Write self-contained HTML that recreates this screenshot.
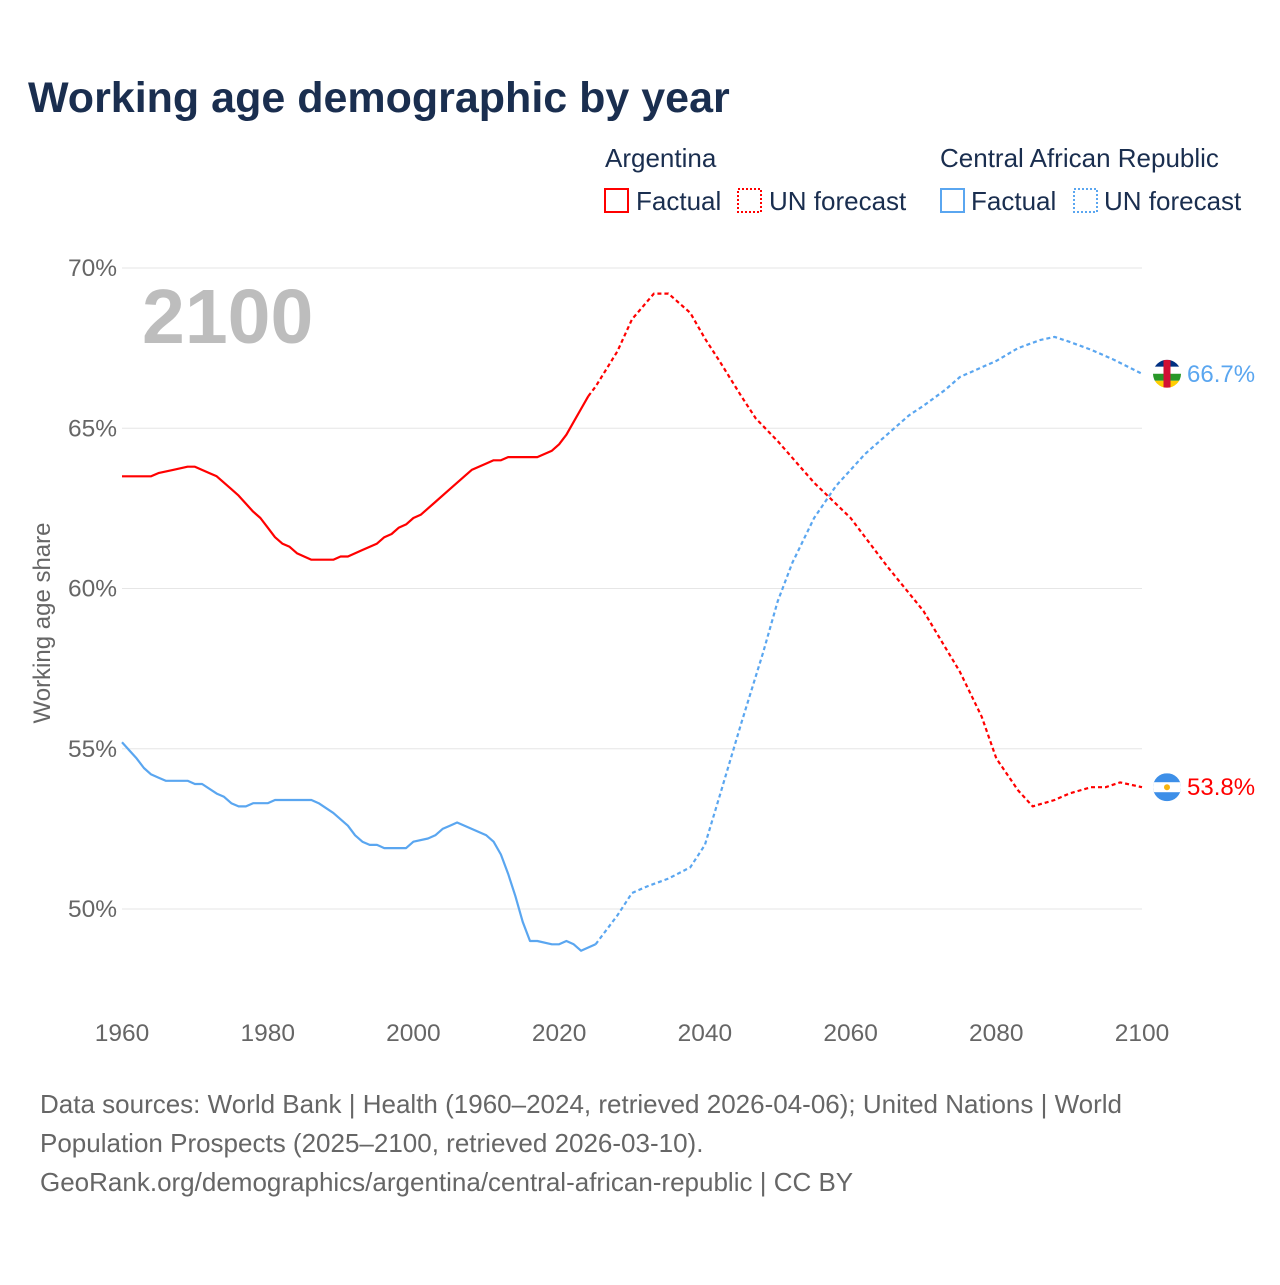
<!DOCTYPE html>
<html><head><meta charset="utf-8">
<style>
body{margin:0;background:#fff;}
svg text{font-family:"Liberation Sans",sans-serif;}
</style></head>
<body>
<svg width="1280" height="1280" viewBox="0 0 1280 1280">
<rect width="1280" height="1280" fill="#fff"/>
<text x="28" y="112" font-size="43" font-weight="bold" fill="#1a2e4f">Working age demographic by year</text>
<g font-size="26" fill="#1a2e4f">
<text x="605" y="167" fill="#1a2e4f">Argentina</text>
<text x="940" y="167" fill="#1a2e4f">Central African Republic</text>
<rect x="605" y="189" width="23" height="23" fill="none" stroke="#ff0000" stroke-width="2"/>
<text x="636" y="210" fill="#1a2e4f">Factual</text>
<rect x="738" y="189" width="23" height="23" fill="none" stroke="#ff0000" stroke-width="2" stroke-dasharray="2,2"/>
<text x="769" y="210" fill="#1a2e4f">UN forecast</text>
<rect x="941" y="189" width="23" height="23" fill="none" stroke="#5aa6f0" stroke-width="2"/>
<text x="971" y="210" fill="#1a2e4f">Factual</text>
<rect x="1074" y="189" width="23" height="23" fill="none" stroke="#5aa6f0" stroke-width="2" stroke-dasharray="2,2"/>
<text x="1104" y="210" fill="#1a2e4f">UN forecast</text>
</g>
<g id="grid"></g>
<text x="142" y="343" font-size="77" font-weight="bold" fill="#bdbdbd">2100</text>
<text transform="translate(50,623) rotate(-90)" text-anchor="middle" font-size="24" fill="#666">Working age share</text>
<g id="plot"></g>
<g font-size="26" fill="#666">
<text x="40" y="1113">Data sources: World Bank | Health (1960–2024, retrieved 2026-04-06); United Nations | World</text>
<text x="40" y="1152">Population Prospects (2025–2100, retrieved 2026-03-10).</text>
<text x="40" y="1191">GeoRank.org/demographics/argentina/central-african-republic | CC BY</text>
</g>
</svg>
<script>
const yTicks=[50,55,60,65,70];
const xTicks=[1960,1980,2000,2020,2040,2060,2080,2100];
const argYears=[1960,1964,1965,1967,1969,1970,1972,1973,1975,1976,1978,1979,1980,1981,1982,1983,1984,1985,1986,1989,1990,1991,1993,1995,1996,1997,1998,1999,2000,2001,2003,2005,2007,2008,2010,2011,2012,2013,2017,2019,2020,2021,2022,2023,2024];
const argVals=[63.5,63.5,63.6,63.7,63.8,63.8,63.6,63.5,63.1,62.9,62.4,62.2,61.9,61.6,61.4,61.3,61.1,61.0,60.9,60.9,61.0,61.0,61.2,61.4,61.6,61.7,61.9,62.0,62.2,62.3,62.7,63.1,63.5,63.7,63.9,64.0,64.0,64.1,64.1,64.3,64.5,64.8,65.2,65.6,66.0];
const argFYears=[2024,2025,2028,2030,2033,2035,2038,2040,2042,2045,2047,2050,2055,2060,2065,2070,2075,2078,2080,2083,2085,2088,2090,2093,2095,2097,2100];
const argFVals=[66.0,66.3,67.4,68.4,69.2,69.2,68.6,67.8,67.1,66.0,65.3,64.6,63.3,62.2,60.7,59.3,57.4,56.0,54.7,53.7,53.2,53.4,53.6,53.8,53.8,53.95,53.8];
const carYears=[1960,1962,1963,1964,1965,1966,1969,1970,1971,1973,1974,1975,1976,1977,1978,1980,1981,1986,1987,1989,1991,1992,1993,1994,1995,1996,1999,2000,2002,2003,2004,2005,2006,2008,2010,2011,2012,2013,2014,2015,2016,2017,2019,2020,2021,2022,2023,2024,2025];
const carVals=[55.2,54.7,54.4,54.2,54.1,54.0,54.0,53.9,53.9,53.6,53.5,53.3,53.2,53.2,53.3,53.3,53.4,53.4,53.3,53.0,52.6,52.3,52.1,52.0,52.0,51.9,51.9,52.1,52.2,52.3,52.5,52.6,52.7,52.5,52.3,52.1,51.7,51.1,50.4,49.6,49.0,49.0,48.9,48.9,49.0,48.9,48.7,48.8,48.9];
const carFYears=[2025,2028,2030,2032,2035,2038,2040,2042,2045,2048,2050,2052,2055,2058,2060,2062,2065,2068,2070,2073,2075,2080,2083,2086,2088,2090,2093,2096,2100];
const carFVals=[48.9,49.8,50.5,50.7,50.95,51.3,52.0,53.5,55.8,58.0,59.6,60.8,62.2,63.2,63.7,64.2,64.8,65.4,65.7,66.2,66.6,67.1,67.5,67.75,67.85,67.7,67.45,67.15,66.7];
const NS='http://www.w3.org/2000/svg';
const xS=y=>122+(y-1960)*1020/140;
const yS=v=>268+(70-v)*641/20;
const grid=document.getElementById('grid'),plot=document.getElementById('plot');
function mk(tag,attrs,parent){const e=document.createElementNS(NS,tag);for(const k in attrs)e.setAttribute(k,attrs[k]);parent.appendChild(e);return e;}
yTicks.forEach(t=>{
 const l=mk('line',{x1:122,x2:1142,y1:yS(t),y2:yS(t),stroke:'#e6e6e6','stroke-width':1},grid);
 
 
 const tx=mk('text',{x:117,y:yS(t)+8,'text-anchor':'end','font-size':24.5,fill:'#666'},grid);
 tx.textContent=t+'%';
 
 
});
xTicks.forEach(t=>{
 const tx=mk('text',{x:xS(t),y:1041,'text-anchor':'middle','font-size':24.5,fill:'#666'},grid);
 tx.textContent=t;
 
 
});
function line(xs,vs,color,dash,name){
 const d=xs.map((x,i)=>(i?'L':'M')+xS(x).toFixed(1)+','+yS(vs[i]).toFixed(1)).join('');
 const p=mk('path',{d:d,fill:'none',stroke:color,'stroke-width':2.2,'stroke-linejoin':'round'},plot);
 if(dash)p.setAttribute('stroke-dasharray','4,3');
 
 
}
line(argYears,argVals,'#ff0000',false,'argentina-factual-line');
line(argFYears,argFVals,'#ff0000',true,'argentina-forecast-line');
line(carYears,carVals,'#5aa6f0',false,'car-factual-line');
line(carFYears,carFVals,'#5aa6f0',true,'car-forecast-line');
const cy=yS(carFVals[carFVals.length-1]), ay=yS(argFVals[argFVals.length-1]);
const fc=mk('g',{},plot);


mk('clipPath',{id:'cc'},fc).appendChild(document.createElementNS(NS,'circle'));
const cc=fc.querySelector('clipPath circle');cc.setAttribute('cx',1167);cc.setAttribute('cy',cy);cc.setAttribute('r',14);
const g1=mk('g',{'clip-path':'url(#cc)'},fc);
[['#003082',-14],['#fff',-7],['#289728',0],['#ffce00',7]].forEach(a=>mk('rect',{x:1153,y:cy+a[1],width:28,height:7,fill:a[0]},g1));
mk('rect',{x:1163.5,y:cy-14,width:7,height:28,fill:'#d21034'},g1);
const fa=mk('g',{},plot);


mk('clipPath',{id:'ca'},fa).appendChild(document.createElementNS(NS,'circle'));
const ca=fa.querySelector('clipPath circle');ca.setAttribute('cx',1167);ca.setAttribute('cy',ay);ca.setAttribute('r',14);
const g2=mk('g',{'clip-path':'url(#ca)'},fa);
mk('rect',{x:1153,y:ay-14,width:28,height:28,fill:'#3d8fe8'},g2);
mk('rect',{x:1153,y:ay-5,width:28,height:10,fill:'#fff'},g2);
mk('circle',{cx:1167,cy:ay,r:3,fill:'#f6b40e'},g2);
const l1=mk('text',{x:1187,y:cy+8,'font-size':24,fill:'#5aa6f0'},plot);
l1.textContent=carFVals[carFVals.length-1].toFixed(1)+'%';


const l2=mk('text',{x:1187,y:ay+8,'font-size':24,fill:'#ff0000'},plot);
l2.textContent=argFVals[argFVals.length-1].toFixed(1)+'%';


</script>
</body></html>
